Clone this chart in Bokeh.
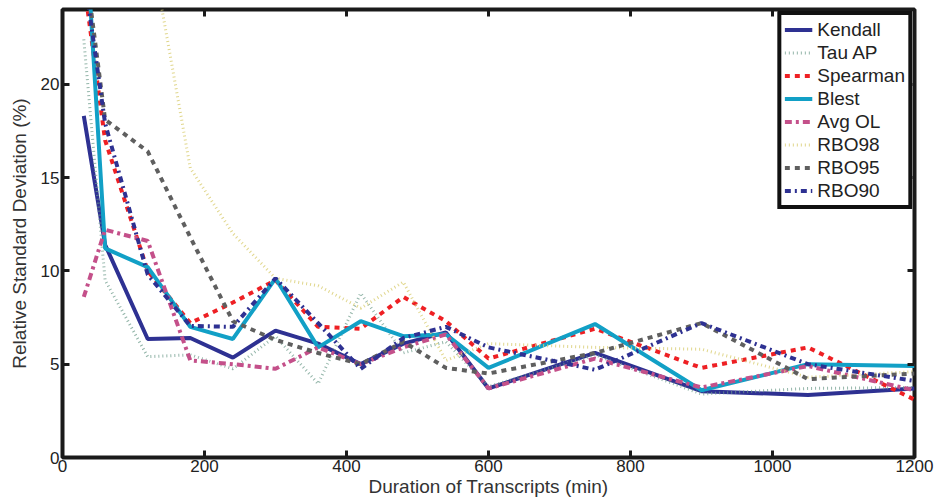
from bokeh.plotting import figure
from bokeh.models import Legend, LegendItem, LinearAxis, Range1d, FixedTicker
from bokeh.embed import file_html
from bokeh.resources import INLINE

duration = [30, 60, 120, 180, 240, 300, 360, 420, 480, 540, 600, 750, 900, 1050, 1200]

kendall  = [18.3, 11.4, 6.35, 6.4, 5.35, 6.8, 6.1, 5.0, 6.1, 6.7, 3.7, 5.6, 3.55, 3.35, 3.7]
tau_ap   = [22.4, 9.5, 5.4, 5.5, 4.75, 6.5, 3.95, 8.8, 5.6, 6.2, 3.8, 5.5, 3.4, 3.7, 3.75]
spearman = [25.5, 17.0, 10.0, 7.2, 8.3, 9.5, 7.0, 6.9, 8.6, 7.3, 5.3, 6.9, 4.8, 5.9, 3.1]
blest    = [30.0, 11.2, 10.2, 7.0, 6.35, 9.6, 5.9, 7.3, 6.5, 6.6, 4.8, 7.15, 3.6, 5.0, 4.9]
avg_ol   = [8.6, 12.2, 11.6, 5.2, 5.0, 4.75, 5.9, 5.0, 5.9, 6.6, 3.7, 5.3, 3.75, 4.9, 3.6]
rbo98    = [45.0, 38.0, 28.3, 15.5, 12.0, 9.6, 9.2, 8.0, 9.4, 5.2, 6.1, 5.9, 5.8, 4.3, 4.6]
rbo95    = [27.0, 18.1, 16.4, 11.8, 7.3, 6.3, 5.6, 5.0, 6.2, 4.8, 4.5, 5.6, 7.2, 4.2, 4.5]
rbo90    = [26.0, 17.9, 9.8, 7.05, 7.0, 9.6, 7.2, 4.75, 6.4, 7.0, 5.9, 4.7, 7.2, 5.0, 4.1]

x_ticks = [0, 200, 400, 600, 800, 1000, 1200]
y_ticks = [0, 5, 10, 15, 20]

FONT = "Liberation Sans"

p = figure(width=937, height=503, output_backend="svg", toolbar_location=None,
           x_range=Range1d(0, 1200), y_range=Range1d(0, 24),
           min_border_left=62, min_border_right=23, min_border_top=9, min_border_bottom=46)
p.grid.visible = False
p.outline_line_color = "#1a1a1a"
p.outline_line_width = 4
p.background_fill_color = "white"

for ax in (p.xaxis[0], p.yaxis[0]):
    ax.axis_line_color = None
    ax.major_tick_in = 7
    ax.major_tick_out = 0
    ax.major_tick_line_width = 3
    ax.major_tick_line_color = "#1a1a1a"
    ax.minor_tick_line_color = None
    ax.major_label_text_font = FONT
    ax.major_label_text_font_size = "17px"
    ax.major_label_text_color = "#222222"
    ax.axis_label_text_font = FONT
    ax.axis_label_text_font_size = "19px"
    ax.axis_label_text_font_style = "normal"
    ax.axis_label_text_color = "#333333"

p.xaxis[0].ticker = FixedTicker(ticks=x_ticks)
p.yaxis[0].ticker = FixedTicker(ticks=y_ticks)
p.xaxis[0].axis_label = "Duration of Transcripts (min)"
p.yaxis[0].axis_label = "Relative Standard Deviation (%)"
p.xaxis[0].axis_label_standoff = 1
p.yaxis[0].axis_label_standoff = 8
p.xaxis[0].major_label_standoff = 2
p.yaxis[0].major_label_standoff = 3

# mirror ticks on top and right (no labels)
top = LinearAxis(ticker=FixedTicker(ticks=x_ticks),
                 major_label_overrides={t: "" for t in x_ticks},
                 axis_line_color=None, major_tick_in=7, major_tick_out=0,
                 major_tick_line_width=3, major_tick_line_color="#1a1a1a",
                 minor_tick_line_color=None, major_label_standoff=0)
right = LinearAxis(ticker=FixedTicker(ticks=y_ticks),
                   major_label_overrides={t: "" for t in y_ticks},
                   axis_line_color=None, major_tick_in=7, major_tick_out=0,
                   major_tick_line_width=3, major_tick_line_color="#1a1a1a",
                   minor_tick_line_color=None, major_label_standoff=0)
p.add_layout(top, "above")
p.add_layout(right, "right")

series = [
    ("Kendall", kendall, "#2e3192", 4, "solid", 1.0),
    ("Tau AP", tau_ap, "#6f9c8c", 3, "1 3", 0.75),
    ("Spearman", spearman, "#ee2024", 4, "5 5", 1.0),
    ("Blest", blest, "#12a0c6", 4, "solid", 1.0),
    ("Avg OL", avg_ol, "#c4508a", 4, "7 4 3 4", 1.0),
    ("RBO98", rbo98, "#ddd27e", 3, "1 3", 0.9),
    ("RBO95", rbo95, "#5f5f5f", 4, "5 5", 1.0),
    ("RBO90", rbo90, "#2e3192", 4, "6 4 2 4", 1.0),
]

items = []
for name, ys, color, w, dash, alpha in series:
    r = p.line(duration, ys, line_color=color, line_width=w, line_dash=dash, line_alpha=alpha)
    items.append(LegendItem(label=name, renderers=[r]))

legend = Legend(items=items, location="top_right", margin=2, padding=3, spacing=0,
                label_text_font=FONT, label_text_font_size="19px", label_text_color="#222222",
                label_height=23, glyph_height=23, glyph_width=28, label_standoff=5,
                label_width=20,
                border_line_color="#111111", border_line_width=4, border_line_alpha=1.0,
                background_fill_color="white", background_fill_alpha=1.0)
p.add_layout(legend)

open("out.html", "w").write(file_html(p, INLINE))
